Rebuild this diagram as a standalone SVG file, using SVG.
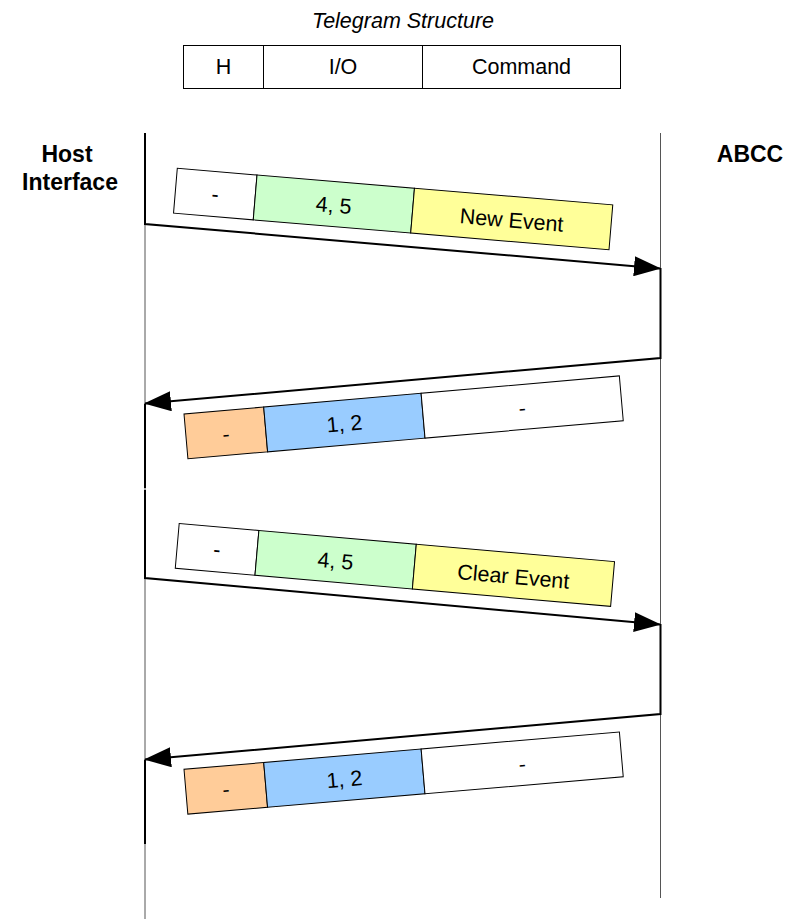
<svg xmlns="http://www.w3.org/2000/svg" width="794" height="919" viewBox="0 0 794 919">
<style>
text{font-family:"Liberation Sans",Arial,sans-serif;font-size:21.5px;fill:#000;text-anchor:middle}
.b{font-weight:bold;font-size:23px}
.i{font-style:italic}
.cell{stroke:#000;stroke-width:1}
.w{fill:#fff}.g{fill:#ccffcc}.y{fill:#ffff99}.o{fill:#ffcc99}.bl{fill:#99ccff}
.life{stroke:#555;stroke-width:1;fill:none}
.msg{stroke:#000;stroke-width:2;fill:none}
</style>
<defs>
<marker id="ah" markerUnits="userSpaceOnUse" markerWidth="27" markerHeight="20" viewBox="0 0 27 20" refX="26" refY="10" orient="auto">
<path d="M0,0 L27,10 L0,20 z" fill="#000"/>
</marker>
</defs>
<rect width="794" height="919" fill="#fff"/>
<g id="title"><text class="i" x="403" y="28">Telegram Structure</text></g>
<g id="structure">
<rect class="cell w" x="183.5" y="45.5" width="80" height="43"/>
<rect class="cell w" x="263.5" y="45.5" width="159" height="43"/>
<rect class="cell w" x="422.5" y="45.5" width="198" height="43"/>
<text x="223.5" y="74">H</text>
<text x="343" y="74">I/O</text>
<text x="521.5" y="74">Command</text>
</g>
<g id="host"><text class="b" x="67" y="162">Host</text><text class="b" x="70" y="190">Interface</text></g>
<g id="abcc"><text class="b" x="750" y="162">ABCC</text></g>
<g id="connectors">
<line class="life" x1="145" y1="133" x2="145" y2="919"/>
<line class="life" x1="660.5" y1="133" x2="660.5" y2="898"/>
<path class="msg" d="M145,133 V224 L660,268.5" marker-end="url(#ah)"/>
<path class="msg" d="M660.5,268 V358 L145,403.5" marker-end="url(#ah)"/>
<path class="msg" d="M145,404 V488"/>
<path class="msg" d="M145,490 V578 L660,624.5" marker-end="url(#ah)"/>
<path class="msg" d="M660.5,624 V714 L145,759.5" marker-end="url(#ah)"/>
<path class="msg" d="M145,760 V844"/>
</g>
<g id="packet1" transform="translate(177.3,168.3) rotate(4.8)">
<rect class="cell w" x="0" y="0" width="80" height="45"/>
<rect class="cell g" x="80" y="0" width="158" height="45"/>
<rect class="cell y" x="238" y="0" width="199" height="45"/>
<text x="40" y="30">-</text><text x="159" y="31">4, 5</text><text x="337.5" y="31">New Event</text>
</g>
<g id="packet2" transform="translate(184,414) rotate(-5)">
<rect class="cell o" x="0" y="0" width="80" height="45"/>
<rect class="cell bl" x="80" y="0" width="158" height="45"/>
<rect class="cell w" x="238" y="0" width="199" height="45"/>
<text x="40" y="31">-</text><text x="159" y="31">1, 2</text><text x="337.5" y="31">-</text>
</g>
<g id="packet3" transform="translate(179.2,523.5) rotate(5)">
<rect class="cell w" x="0" y="0" width="80" height="45"/>
<rect class="cell g" x="80" y="0" width="158" height="45"/>
<rect class="cell y" x="238" y="0" width="199" height="45"/>
<text x="40" y="30">-</text><text x="159" y="31">4, 5</text><text x="337.5" y="31">Clear Event</text>
</g>
<g id="packet4" transform="translate(184,769.3) rotate(-4.9)">
<rect class="cell o" x="0" y="0" width="80" height="45"/>
<rect class="cell bl" x="80" y="0" width="158" height="45"/>
<rect class="cell w" x="238" y="0" width="199" height="45"/>
<text x="40" y="31">-</text><text x="159" y="31">1, 2</text><text x="337.5" y="31">-</text>
</g>
</svg>
